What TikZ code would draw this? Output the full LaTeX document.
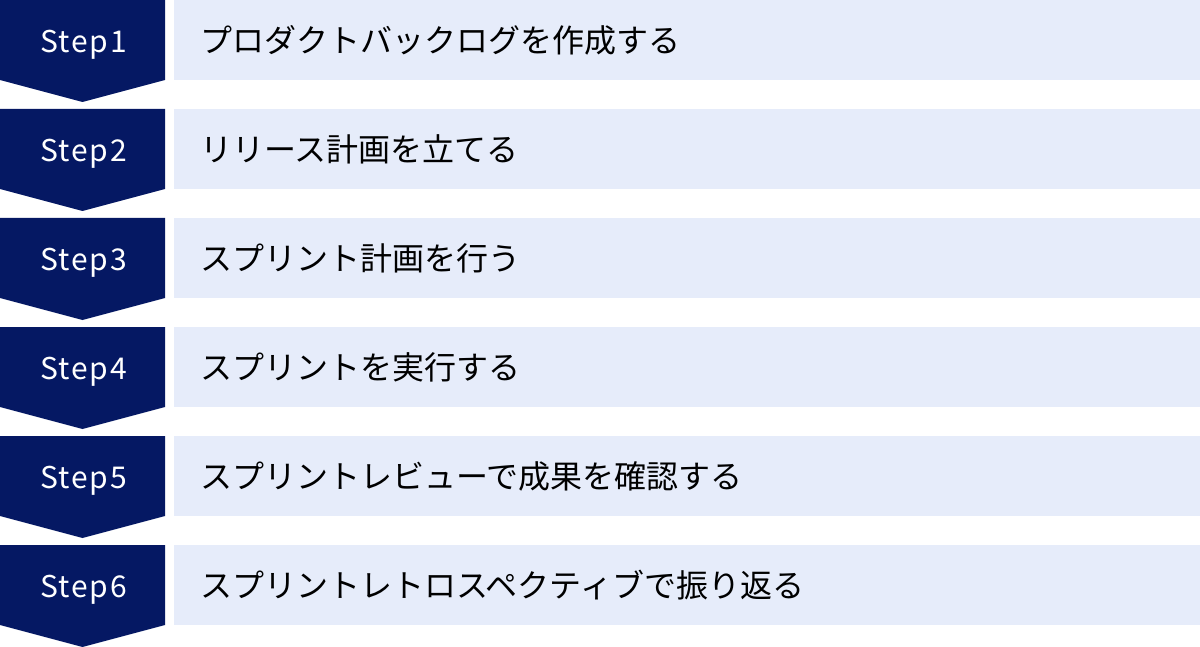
\documentclass[tikz,border=0pt]{standalone}
\usepackage{fontspec}
\setmainfont{Noto Sans CJK JP}
\newfontfamily\stepfont[LetterSpace=6]{Noto Sans CJK JP}
\definecolor{navy}{RGB}{5,24,99}
\definecolor{lightbox}{RGB}{230,236,250}
\begin{document}
\begin{tikzpicture}[x=1pt,y=-1pt,
  steplabel/.style={anchor=base,inner sep=0pt,text=white,font=\stepfont\fontsize{30}{36}\selectfont},
  itemtext/.style={anchor=base west,inner sep=0pt,text=black,font=\fontsize{32}{38}\selectfont}]
\useasboundingbox (0,0) rectangle (1200,647);
\foreach \i/\t in {1/プロダクトバックログを作成する,2/リリース計画を立てる,3/スプリント計画を行う,4/スプリントを実行する,5/スプリントレビューで成果を確認する,6/スプリントレトロスペクティブで振り返る}{
  \pgfmathsetmacro{\top}{(\i-1)*109}
  \fill[navy] (0,\top) -- (165,\top) -- (165,\top+80) -- (82.5,\top+102) -- (0,\top+80) -- cycle;
  \fill[lightbox] (174,\top) rectangle (1200,\top+80);
  \node[steplabel] (step\i) at (83.5,\top+52.5) {Step\i};
  \node[itemtext] (item\i) at (200,\top+52.5) {\t};
}
\end{tikzpicture}
\end{document}
